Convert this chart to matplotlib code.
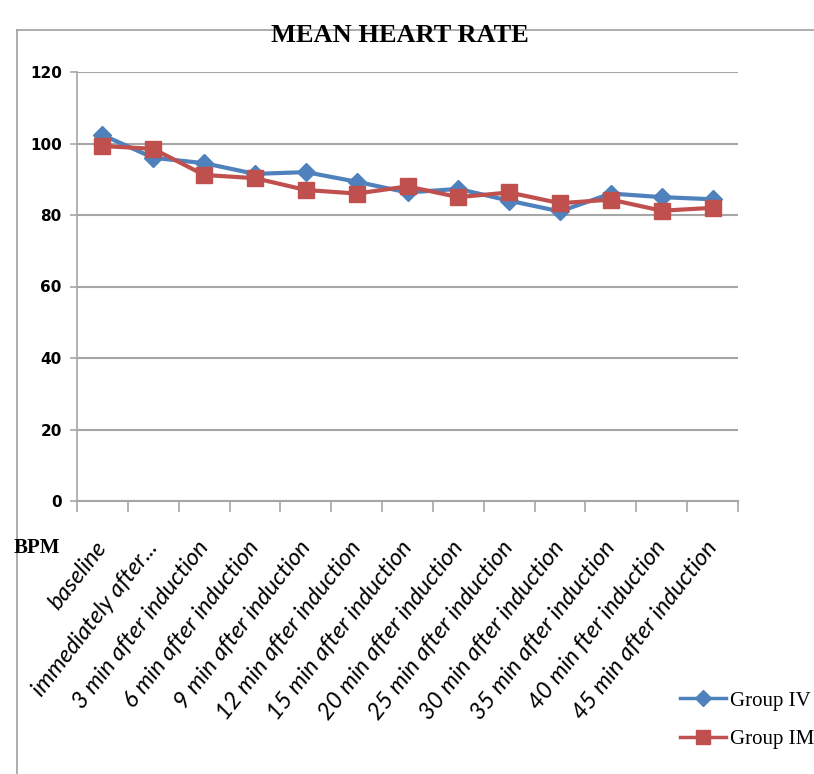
import numpy as np
import matplotlib
matplotlib.use("Agg")
from matplotlib import pyplot as plt
from matplotlib.lines import Line2D
from matplotlib.transforms import ScaledTranslation

# categories along the x axis
categories = ["baseline", "immediately after...", "3 min after induction",
              "6 min after induction", "9 min after induction",
              "12 min after induction", "15 min after induction",
              "20 min after induction", "25 min after induction",
              "30 min after induction", "35 min after induction",
              "40 min fter induction", "45 min after induction"]

# mean heart rate (BPM)
group_iv = [102.4, 96, 94.5, 91.5, 92, 89.3, 86.3, 87.3, 84, 81, 86, 85, 84.4]
group_im = [99.3, 98.5, 91.2, 90.3, 87, 86, 88, 85, 86.3, 83.3, 84.3, 81.2, 82]

fig = plt.figure(figsize=(8.14, 7.74), dpi=100)

# outer frame of the chart object
fig.add_artist(Line2D([17/814, 17/814], [0, 1 - 30/774], color="#a0a0a0", lw=1.2, transform=fig.transFigure))
fig.add_artist(Line2D([17/814, 1], [1 - 30/774, 1 - 30/774], color="#a0a0a0", lw=1.2, transform=fig.transFigure))

ax = fig.add_axes([77/814, 1 - 501/774, (738 - 77)/814, (501 - 72)/774])

x = np.arange(len(categories))
ax.plot(x, group_iv, color="#4F81BD", lw=3, marker="D", markersize=9, label="Group IV")
ax.plot(x, group_im, color="#C0504D", lw=3, marker="s", markersize=12, label="Group IM")

ax.set_xlim(-0.5, len(categories) - 0.5)
ax.set_ylim(0, 120)
ax.set_yticks(np.arange(0, 121, 20))
ax.yaxis.grid(True, color="#a6a6a6", lw=1.5)
ax.set_axisbelow(True)

for s in ["top", "right"]:
    ax.spines[s].set_visible(False)
ax.spines["left"].set_color("#a6a6a6")
ax.spines["bottom"].set_color("#a6a6a6")
ax.spines["left"].set_linewidth(1.2)
ax.spines["bottom"].set_linewidth(1.5)

# ticks on category boundaries, labels at the centres
ax.set_xticks(np.arange(-0.5, len(categories), 1.0))
ax.set_xticklabels([])
ax.set_xticks(x, minor=True)
ax.set_xticklabels(categories, minor=True, rotation=52, ha="right", va="top",
                   rotation_mode="anchor", fontstyle="italic",
                   family="Lato", fontsize=17)
ax.tick_params(axis="x", which="major", length=8, color="#a6a6a6", width=1.2)
ax.tick_params(axis="x", which="minor", length=0, pad=26)
ax.tick_params(axis="y", length=5, color="#a6a6a6", width=1.2, pad=6)
shift = ScaledTranslation(-8/100, 0, fig.dpi_scale_trans)
for t in ax.get_xticklabels(minor=True):
    t.set_transform(t.get_transform() + shift)
for t in ax.get_yticklabels():
    t.set_fontweight("bold")
    t.set_family("DejaVu Sans")
    t.set_fontsize(11)

fig.text(400/814, 1 - 35/774, "MEAN HEART RATE", ha="center", va="center",
         family="Liberation Serif", fontweight="bold", fontsize=19)
fig.text(14/814, 1 - 548/774, "BPM", ha="left", va="center",
         family="Liberation Serif", fontweight="bold", fontsize=15)

leg = fig.legend(loc="center left", bbox_to_anchor=(680/814, 1 - 720/774),
                 frameon=False, prop={"family": "Liberation Serif", "size": 15},
                 handlelength=2.2, handletextpad=0.2, labelspacing=0.9,
                 borderaxespad=0, borderpad=0, markerscale=0.85)
for h in leg.legend_handles:
    h.set_linewidth(2.5)

fig.savefig("out.png", dpi=100)
